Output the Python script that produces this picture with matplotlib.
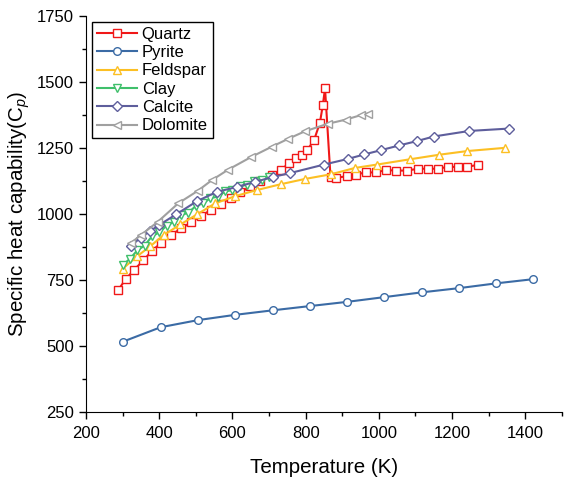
import matplotlib
matplotlib.use('Agg')
import matplotlib.pyplot as plt
from matplotlib.ticker import MultipleLocator

plt.rcParams['font.family'] = ['Liberation Sans', 'DejaVu Sans']
plt.rcParams['mathtext.fontset'] = 'custom'
plt.rcParams['mathtext.rm'] = 'Liberation Sans'
plt.rcParams['mathtext.it'] = 'Liberation Sans:italic'

# data
quartz_T = [288, 308, 331, 357, 379, 406, 432, 460, 487, 514, 541, 568, 595, 622,
            649, 676, 708, 732, 754, 774, 791, 804, 823, 839, 847, 853, 868, 883,
            912, 937, 964, 992, 1019, 1047, 1077, 1107, 1133, 1161, 1188, 1216, 1242, 1270]
quartz_cp = [712, 752, 788, 824, 859, 891, 920, 945, 968, 992, 1015, 1038, 1060, 1082,
             1104, 1125, 1147, 1166, 1191, 1210, 1222, 1241, 1279, 1345, 1412, 1475, 1140, 1136,
             1143, 1149, 1157, 1157, 1166, 1164, 1164, 1171, 1171, 1171, 1178, 1178, 1178, 1186]

pyrite_T = [302, 404, 506, 608, 710, 811, 913, 1015, 1117, 1219, 1320, 1422]
pyrite_cp = [517, 571, 598, 618, 635, 651, 667, 685, 703, 719, 737, 753]

feldspar_T = [300, 340, 376, 412, 458, 503, 553, 607, 666, 734, 797, 869, 935, 996,
              1086, 1165, 1242, 1344]
feldspar_cp = [792, 840, 878, 920, 960, 998, 1040, 1067, 1090, 1113, 1132, 1150, 1174, 1187,
               1207, 1224, 1238, 1250]

clay_T = [300, 320, 340, 360, 380, 400, 420, 440, 460, 480, 500, 520, 540, 560, 580,
          600, 620, 640, 660, 680, 700]
clay_cp = [806, 830, 862, 880, 915, 930, 955, 970, 995, 1005, 1030, 1040, 1060, 1065, 1085,
           1090, 1105, 1110, 1125, 1128, 1138]

calcite_T = [322, 349, 375, 399, 447, 503, 557, 612, 661, 711, 756, 851, 915, 960,
             1005, 1055, 1105, 1150, 1247, 1355]
calcite_cp = [878, 910, 935, 957, 999, 1048, 1083, 1102, 1121, 1140, 1154, 1187, 1208, 1225,
              1241, 1259, 1276, 1293, 1314, 1323]

dolomite_T = [322, 350, 396, 452, 505, 544, 589, 652, 707, 752, 797, 860, 910, 951, 970]
dolomite_cp = [889, 920, 970, 1040, 1087, 1128, 1168, 1216, 1254, 1284, 1312, 1341, 1357, 1374, 1380]

fig = plt.figure(figsize=(5.71, 4.78), dpi=100)
ax = fig.add_axes([0.1506, 0.138, 0.8334, 0.829])

style = dict(lw=1.5, ms=5.5, mfc='white', mew=1.0)
ax.plot(quartz_T, quartz_cp, '-s', color='#f01818', label='Quartz', **style)
ax.plot(pyrite_T, pyrite_cp, '-o', color='#3b6ba5', label='Pyrite', **style)
ax.plot(feldspar_T, feldspar_cp, '-^', color='#fcbf23', label='Feldspar', **style)
ax.plot(clay_T, clay_cp, '-v', color='#3fbf6b', label='Clay', **style)
ax.plot(calcite_T, calcite_cp, '-D', color='#5e5e9c', label='Calcite',
        lw=1.5, ms=4.8, mfc='white', mew=1.0)
ax.plot(dolomite_T, dolomite_cp, '-<', color='#a0a0a0', label='Dolomite', **style)

ax.set_xlim(200, 1500)
ax.set_ylim(250, 1750)
ax.xaxis.set_major_locator(MultipleLocator(200))
ax.xaxis.set_minor_locator(MultipleLocator(100))
ax.yaxis.set_major_locator(MultipleLocator(250))
ax.yaxis.set_minor_locator(MultipleLocator(125))
ax.spines['top'].set_visible(False)
ax.spines['right'].set_visible(False)
ax.tick_params(which='major', direction='out', length=5, width=1, labelsize=12)
ax.tick_params(which='minor', direction='out', length=3, width=1)
ax.tick_params(axis='x', which='major', pad=5)

ax.set_xlabel('Temperature (K)', fontsize=14.8, labelpad=12)
ax.set_ylabel('Specific heat capability(C$_{p}$)', fontsize=14.8)

leg = ax.legend(loc='upper left', bbox_to_anchor=(0.012, 0.985), borderaxespad=0,
                fontsize=12, fancybox=False, edgecolor='black', framealpha=1,
                handlelength=2.4, handletextpad=0.3, labelspacing=0.2, borderpad=0.3)
leg.get_frame().set_linewidth(1.0)

fig.savefig('out.png', dpi=100)
